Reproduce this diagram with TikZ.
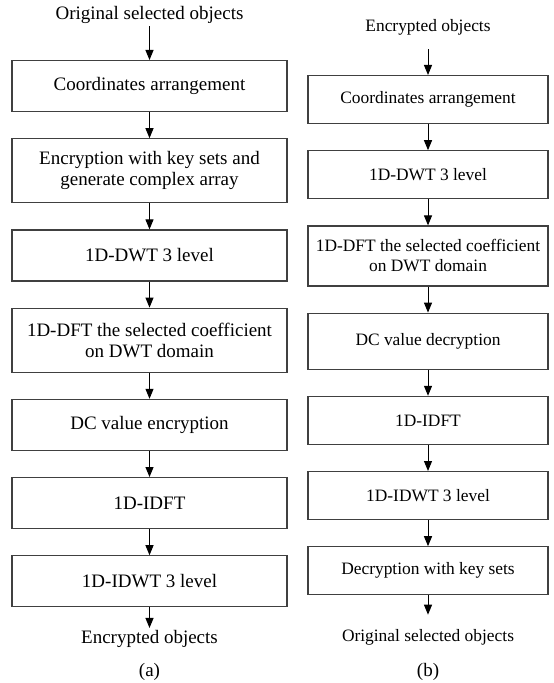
\documentclass[tikz,border=0pt]{standalone}
\usepackage{fontspec}
\setmainfont{Liberation Serif}
\usetikzlibrary{arrows.meta,positioning}
\tikzset{
  lbox/.style={rectangle, draw=black!75, line width=0.6pt, align=center,
               minimum width=137.5pt, minimum height=25.5pt, inner sep=2pt},
  rbox/.style={rectangle, draw=black!75, line width=0.6pt, align=center,
               minimum width=120pt, minimum height=24pt, inner sep=2pt,
               font=\fontsize{8.7}{10}\selectfont},
  endtext/.style={inner sep=1pt, align=center},
  arrow/.style={-{Triangle[length=5pt,width=4pt]}, line width=0.5pt},
}

\begin{document}
\begin{tikzpicture}[x=1pt, y=-1pt, node distance=13pt, font=\fontsize{9.5}{10.5}\selectfont]
  \useasboundingbox (0,0) rectangle (276.5,341.5);

  % ----- Panel (a): Encryption -----
  \node[endtext] (atop) at (74.75,7.5) {Original selected objects};
  \node[lbox, anchor=north] (a1) at (74.75,30) {Coordinates arrangement};
  \node[lbox, below=of a1, minimum height=32pt] (a2) {Encryption with key sets and\\generate complex array};
  \node[lbox, below=of a2] (a3) {1D-DWT 3 level};
  \node[lbox, below=of a3, minimum height=32pt] (a4) {1D-DFT the selected coefficient\\on DWT domain};
  \node[lbox, below=of a4] (a5) {DC value encryption};
  \node[lbox, below=of a5] (a6) {1D-IDFT};
  \node[lbox, below=of a6] (a7) {1D-IDWT 3 level};
  \node[endtext] (aend) at (74.75,319.5) {Encrypted objects};
  \node (acap) at (74.75,336) {(a)};

  % ----- Panel (b): Decryption -----
  \node[endtext, font=\fontsize{8.7}{10}\selectfont] (btop) at (214,13.5) {Encrypted objects};
  \node[rbox, anchor=north] (b1) at (214,37.5) {Coordinates arrangement};
  \node[rbox, below=of b1] (b2) {1D-DWT 3 level};
  \node[rbox, below=of b2, minimum height=30pt] (b3) {1D-DFT the selected coefficient\\on DWT domain};
  \node[rbox, below=of b3, minimum height=28pt] (b4) {DC value decryption};
  \node[rbox, below=of b4] (b5) {1D-IDFT};
  \node[rbox, below=of b5] (b6) {1D-IDWT 3 level};
  \node[rbox, below=of b6] (b7) {Decryption with key sets};
  \node[endtext, font=\fontsize{8.7}{10}\selectfont] (bend) at (214,318.5) {Original selected objects};
  \node (bcap) at (214,336) {(b)};

  % ----- Arrows -----
  \draw[arrow] (atop.south) -- (a1.north);
  \draw[arrow] (a1.south) -- (a2.north);
  \draw[arrow] (a2.south) -- (a3.north);
  \draw[arrow] (a3.south) -- (a4.north);
  \draw[arrow] (a4.south) -- (a5.north);
  \draw[arrow] (a5.south) -- (a6.north);
  \draw[arrow] (a6.south) -- (a7.north);
  \draw[arrow] (a7.south) -- (aend.north);

  \draw[arrow, shorten <=6pt] (btop.south) -- (b1.north);
  \draw[arrow] (b1.south) -- (b2.north);
  \draw[arrow] (b2.south) -- (b3.north);
  \draw[arrow] (b3.south) -- (b4.north);
  \draw[arrow] (b4.south) -- (b5.north);
  \draw[arrow] (b5.south) -- (b6.north);
  \draw[arrow] (b6.south) -- (b7.north);
  \draw[arrow, shorten >=6pt] (b7.south) -- (bend.north);
\end{tikzpicture}
\end{document}
